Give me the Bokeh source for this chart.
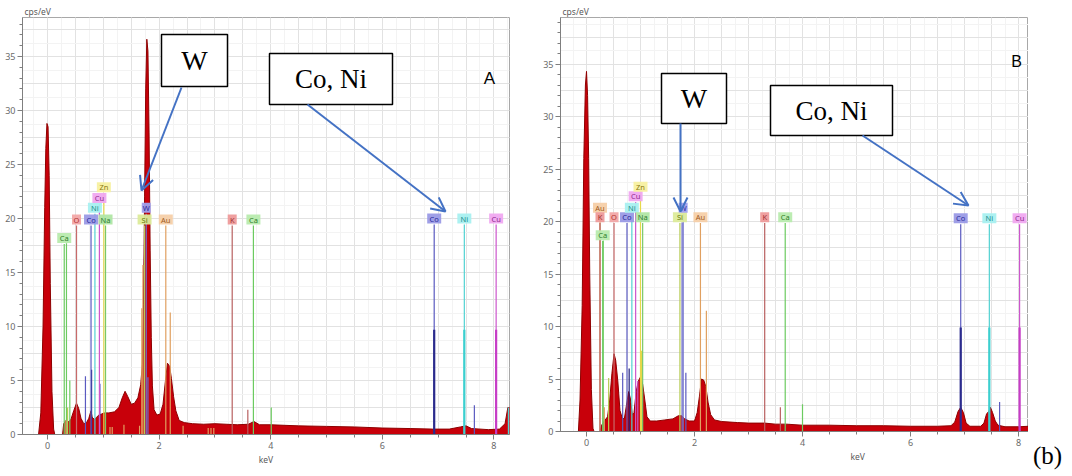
from bokeh.plotting import figure
from bokeh.layouts import row
from bokeh.models import (ColumnDataSource, BoxAnnotation, Label, Arrow, OpenHead,
                          SingleIntervalTicker, Range1d, Title, Div)
from bokeh.embed import file_html
from bokeh.resources import INLINE
from bokeh.core.properties import value

# ---------------- data: panel A ----------------
a_kev = [-0.45, -0.16, -0.12, -0.08, -0.05, -0.03, -0.01, 0.01, 0.03, 0.05, 0.08, 0.11, 0.13,
         0.27, 0.29, 0.33, 0.38, 0.42, 0.47, 0.52, 0.56, 0.60, 0.65, 0.70, 0.74, 0.78, 0.80,
         0.84, 0.88, 0.92, 0.97, 1.02, 1.10, 1.20, 1.28, 1.34, 1.39, 1.44, 1.50, 1.56, 1.62,
         1.67, 1.70, 1.72, 1.74, 1.76, 1.78, 1.80, 1.82, 1.84, 1.86, 1.88, 1.91, 1.96, 2.02,
         2.07, 2.11, 2.15, 2.19, 2.22, 2.26, 2.30, 2.36, 2.45, 2.60, 2.80, 3.00, 3.20, 3.40,
         3.60, 3.70, 3.80, 4.00, 4.50, 5.00, 5.50, 6.00, 6.50, 6.90, 7.20, 7.40, 7.50, 7.60,
         7.90, 8.10, 8.20, 8.25, 8.30]
a_cps = [0, 0, 2, 10, 21, 26.5, 28.8, 28.5, 24, 14, 4, 0.5, 0,
         0, 1.0, 1.3, 1.2, 1.4, 2.2, 2.9, 2.4, 1.5, 1.0, 1.1, 1.5, 2.2, 1.6,
         1.4, 1.6, 1.8, 1.9, 2.0, 2.0, 2.1, 2.5, 3.4, 4.0, 3.5, 2.8, 2.9, 3.4,
         4.6, 6.5, 12, 22, 32, 36.6, 35.5, 28, 17, 9, 4.5, 2.3, 1.8, 1.9,
         2.8, 4.8, 6.6, 6.3, 5.2, 3.5, 2.2, 1.3, 1.1, 1.0, 0.95, 1.0, 0.95, 0.9,
         0.95, 1.2, 0.9, 0.9, 0.8, 0.75, 0.7, 0.6, 0.55, 0.5, 0.5, 0.7, 0.8, 0.55,
         0.45, 0.5, 1.0, 2.5, 2.5]

a_lab_text = ["Ca", "O", "Co", "Ni", "Cu", "Zn", "Na", "Si", "W", "Au", "K", "Ca", "Co", "Ni", "Cu"]
a_lab_kev = [0.30, 0.52, 0.78, 0.85, 0.93, 1.01, 1.04, 1.74, 1.77, 2.12, 3.31, 3.69, 6.93, 7.47, 8.04]
a_lab_y = [18.2, 19.9, 19.9, 21.0, 21.9, 22.9, 19.9, 19.9, 21.0, 19.9, 19.9, 19.9, 20.0, 20.0, 20.0]

a_sec_kev = [0.34, 0.36, 0.40, 0.33, 0.68, 0.79, 0.94, 1.12, 1.16, 1.37, 1.65, 1.69, 1.71, 1.80,
             2.20, 2.43, 2.88, 2.93, 2.98, 3.59, 4.01, 7.65, 8.26]
a_sec_h = [17.7, 2.5, 5.0, 1.3, 5.4, 6.0, 4.7, 0.7, 0.7, 0.9, 0.8, 11.7, 15.7, 5.3,
           11.3, 0.8, 0.6, 0.6, 0.6, 2.3, 2.5, 2.7, 2.5]
a_sec_el = ["Ca", "Si", "Ca", "Au", "Co", "CoD", "Co", "Au", "Au", "Au", "Au", "Au", "Au", "W",
            "Au", "Au", "Au", "Au", "Au", "K", "Ca", "Co", "Ni"]

a_k_kev = [6.93, 7.47, 8.04]
a_k_h = [9.7, 9.7, 9.7]

# ---------------- data: panel B ----------------
b_kev = [-0.48, -0.15, -0.12, -0.08, -0.05, -0.02, 0.00, 0.02, 0.04, 0.06, 0.09, 0.12, 0.14,
         0.25, 0.28, 0.33, 0.39, 0.43, 0.47, 0.51, 0.54, 0.58, 0.62, 0.66, 0.70, 0.74, 0.78,
         0.81, 0.85, 0.88, 0.92, 0.96, 1.00, 1.04, 1.08, 1.12, 1.18, 1.30, 1.45, 1.60, 1.70,
         1.76, 1.82, 1.90, 2.00, 2.05, 2.09, 2.13, 2.17, 2.21, 2.25, 2.30, 2.37, 2.50, 2.80,
         3.00, 3.30, 3.50, 3.70, 4.00, 4.50, 5.00, 5.50, 6.00, 6.50, 6.75, 6.82, 6.88, 6.93,
         6.98, 7.03, 7.10, 7.30, 7.36, 7.41, 7.45, 7.48, 7.52, 7.57, 7.62, 7.75, 8.00, 8.19]
b_cps = [0, 0, 3, 12, 26, 33, 34.3, 32, 26, 15, 4, 0.3, 0,
         0, 0.6, 1.0, 1.4, 3.0, 5.5, 7.4, 6.8, 4.8, 2.0, 1.3, 1.2, 2.5, 3.8,
         3.2, 1.6, 1.8, 3.8, 4.8, 5.2, 4.5, 3.0, 1.4, 1.0, 1.0, 1.1, 1.2, 1.5,
         1.5, 1.2, 1.0, 1.0, 1.8, 3.3, 5.0, 4.9, 4.3, 2.8, 1.6, 1.1, 0.95, 0.85,
         0.8, 0.8, 0.7, 0.7, 0.6, 0.6, 0.55, 0.55, 0.5, 0.5, 0.55, 0.9, 1.9, 2.3,
         1.8, 0.8, 0.5, 0.5, 0.8, 1.7, 1.9, 2.3, 1.8, 1.0, 0.6, 0.45, 0.45, 0.5]

b_lab_text = ["Au", "K", "Ca", "O", "Co", "Ni", "Cu", "Zn", "Na", "Si", "W", "Au", "K", "Ca", "Co", "Ni", "Cu"]
b_lab_kev = [0.25, 0.25, 0.30, 0.51, 0.75, 0.84, 0.91, 1.00, 1.04, 1.73, 1.79, 2.11, 3.30, 3.68, 6.93, 7.46, 8.02]
b_lab_y = [21.3, 20.4, 18.7, 20.4, 20.4, 21.3, 22.4, 23.3, 20.4, 20.4, 21.3, 20.4, 20.4, 20.4, 20.3, 20.3, 20.3]

b_sec_kev = [0.31, 0.33, 0.41, 0.67, 0.79, 0.95, 1.02, 1.77, 1.84, 2.22, 3.59, 4.00, 7.65]
b_sec_h = [18.2, 2.3, 5.1, 5.6, 6.0, 4.8, 7.7, 19.9, 5.6, 11.5, 2.3, 2.6, 2.8]
b_sec_el = ["Ca", "Au", "Si", "Co", "CoD", "Cu", "Zn", "W", "Co", "Au", "K", "Ca", "Co"]

b_k_kev = [6.93, 7.46, 8.02]
b_k_h = [9.9, 9.9, 9.9]

# ---------------- styles ----------------
STYLE = {  # line colour, label fill, label text
    "Ca": ("#6CCB60", "#B8EBAE", "#2F7D2A"),
    "O": ("#C86A6A", "#F2A7A7", "#B03030"),
    "Co": ("#5A5AC0", "#9A9AE6", "#2A2A99"),
    "CoD": ("#1E1E7A", "#9A9AE6", "#2A2A99"),
    "Ni": ("#52D2D2", "#A8F0F0", "#1C8C8C"),
    "Cu": ("#CC55CC", "#F0A8F0", "#8E2A8E"),
    "Zn": ("#E6D84A", "#F7F0A0", "#8C7A10"),
    "Na": ("#78C868", "#B0E6A4", "#2E7D32"),
    "W": ("#6F6FCC", "#A0A0EE", "#2A2A99"),
    "Si": ("#B8CC55", "#DCEB9A", "#667A10"),
    "Au": ("#E0A060", "#F6CFA8", "#A05A20"),
    "K": ("#B86060", "#EE9A9A", "#A03030"),
}
K_COLORS = ["#2B2B8C", "#3CCFCF", "#C63CC6"]
FILL = "#C8000A"
EDGE = "#8E0000"
ARROW = "#4472C4"
AXIS_TXT = "#5A5A5A"


def make_panel(kev, cps, lab_text, lab_kev, lab_y, sec_kev, sec_h, sec_el, k_kev, k_h,
               X0, SX, Y0, SY, frame, borders, extras):
    left_px, right_px, top_px, bottom_px = frame
    fx = lambda px: (px - X0) / SX
    fy = lambda py: (Y0 - py) / SY
    p = figure(frame_width=right_px - left_px, frame_height=bottom_px - top_px,
               x_range=Range1d(fx(left_px), fx(right_px)),
               y_range=Range1d(0, fy(top_px)),
               output_backend="svg", toolbar_location=None,
               min_border_left=borders[0], min_border_right=borders[1],
               min_border_top=borders[2], min_border_bottom=borders[3],
               background_fill_color="white", border_fill_color="white")
    p.outline_line_color = "#A8A8A8"
    p.xaxis.ticker = SingleIntervalTicker(interval=2, num_minor_ticks=4)
    p.yaxis.ticker = SingleIntervalTicker(interval=5, num_minor_ticks=5)
    p.xgrid.ticker = SingleIntervalTicker(interval=0.5, num_minor_ticks=2)
    p.ygrid.ticker = SingleIntervalTicker(interval=2.5, num_minor_ticks=2)
    for g in (p.xgrid, p.ygrid):
        g.grid_line_color = "#E2E2E2"
        g.minor_grid_line_color = "#F3F3F3"
    for ax in (p.xaxis, p.yaxis):
        ax.axis_line_color = "#7F7F7F"
        ax.major_tick_line_color = "#7F7F7F"
        ax.minor_tick_line_color = "#7F7F7F"
        ax.major_tick_in = 0
        ax.major_tick_out = 5
        ax.minor_tick_in = 0
        ax.minor_tick_out = 3
        ax.major_label_text_font_size = "9px"
        ax.major_label_text_color = "#6A6A6A"
        ax.major_label_text_font = "Noto Sans"
        ax.major_label_standoff = 2

    # axis captions as titles outside the frame
    p.add_layout(Title(text="cps/eV", align="left", offset=2, standoff=1,
                       text_font="Noto Sans", text_font_size="8.5px",
                       text_font_style="normal", text_color=AXIS_TXT), "above")
    p.add_layout(Title(text="keV", align=extras["kev_align"], offset=extras["kev_offset"],
                       standoff=0, text_font="Noto Sans", text_font_size="8.5px",
                       text_font_style="normal", text_color=AXIS_TXT), "below")

    # spectrum
    p.varea(x=kev, y1=[0] * len(kev), y2=cps, fill_color=FILL)
    p.line(kev, cps, line_color=EDGE, line_width=1)

    # secondary element lines
    p.segment(x0=sec_kev, y0=[0] * len(sec_kev), x1=sec_kev, y1=sec_h,
              line_color=[STYLE[e][0] for e in sec_el], line_width=1.2)
    # main element lines to labels
    top = [y - 0.55 for y in lab_y]
    p.segment(x0=lab_kev, y0=[0] * len(lab_kev), x1=lab_kev, y1=top,
              line_color=[STYLE[t][0] for t in lab_text], line_width=1.2)
    # K-line intensity bars
    p.segment(x0=k_kev, y0=[0] * len(k_kev), x1=k_kev, y1=k_h,
              line_color=K_COLORS, line_width=2.2)

    # label boxes
    src = ColumnDataSource(dict(
        x=lab_kev, y=lab_y, t=lab_text,
        w=[4 + 5 * len(t) for t in lab_text],
        fc=[STYLE[t][1] for t in lab_text],
        tc=[STYLE[t][2] for t in lab_text]))
    p.rect(x="x", y="y", width="w", height=10, width_units="screen", height_units="screen",
           fill_color="fc", line_color=None, fill_alpha=0.95, source=src)
    p.text(x="x", y="y", text="t", text_align="center", text_baseline="middle",
           text_font_size="7.5px", text_color="tc", text_font=value("Noto Sans"), source=src)

    # annotation boxes, arrows, texts (positions in page pixels)
    for (l, t, r, b, txt, fs) in extras["boxes"]:
        p.add_layout(BoxAnnotation(left=fx(l), right=fx(r), top=fy(t), bottom=fy(b),
                                   fill_color="white", fill_alpha=1.0,
                                   line_color="black", line_width=1.5, line_alpha=1.0))
        p.add_layout(Label(x=fx((l + r) / 2), y=fy((t + b) / 2), text=txt,
                           text_align="center", text_baseline="middle",
                           text_font="Liberation Serif", text_font_size=fs, text_color="black"))
    for (x0, y0, x1, y1) in extras["arrows"]:
        p.add_layout(Arrow(x_start=fx(x0), y_start=fy(y0), x_end=fx(x1), y_end=fy(y1),
                           line_color=ARROW, line_width=2,
                           end=OpenHead(size=14, line_color=ARROW, line_width=2)))
    for (x, y, txt, font, fs) in extras["texts"]:
        p.add_layout(Label(x=fx(x), y=fy(y), text=txt, text_font=font, text_font_size=fs,
                           text_color="black", text_align="center", text_baseline="middle"))
    return p


extras_a = {
    "boxes": [(164, 33, 230, 85, "W", "28px"), (272, 52, 395, 103, "Co, Ni", "27px")],
    "arrows": [(184, 86, 144, 189), (310, 103, 448, 210)],
    "texts": [(492, 77, "A", "Liberation Sans", "17px")],
    "kev_align": "center", "kev_offset": 0,
}
extras_b = {
    "boxes": [(664, 76, 729, 126, "W", "28px"), (773, 88, 895, 138, "Co, Ni", "27px")],
    "arrows": [(683, 126, 683, 214), (865, 138, 971, 208)],
    "texts": [(1019, 64, "B", "Liberation Sans", "16px")],
    "kev_align": "left", "kev_offset": 290,
}

pa = make_panel(a_kev, a_cps, a_lab_text, a_lab_kev, a_lab_y, a_sec_kev, a_sec_h, a_sec_el,
                a_k_kev, a_k_h, X0=50, SX=55.8, Y0=433, SY=10.8,
                frame=(25, 512, 16, 433), borders=(22, 18, 13, 36), extras=extras_a)
pb = make_panel(b_kev, b_cps, b_lab_text, b_lab_kev, b_lab_y, b_sec_kev, b_sec_h, b_sec_el,
                b_k_kev, b_k_h, X0=589, SX=54, Y0=434, SY=10.5,
                frame=(563, 1031, 20, 434), borders=(33, 0, 17, 35), extras=extras_b)

# "(b)" caption to the right of panel B
cap = Div(text="(b)", width=27, height=26, margin=(443, 0, 0, 5),
          styles={"font-family": "Liberation Serif", "font-size": "25px",
                  "line-height": "25px", "color": "black", "white-space": "nowrap",
                  "overflow": "visible"})

layout = row(pa, pb, cap)
open("out.html", "w").write(file_html(layout, INLINE))
